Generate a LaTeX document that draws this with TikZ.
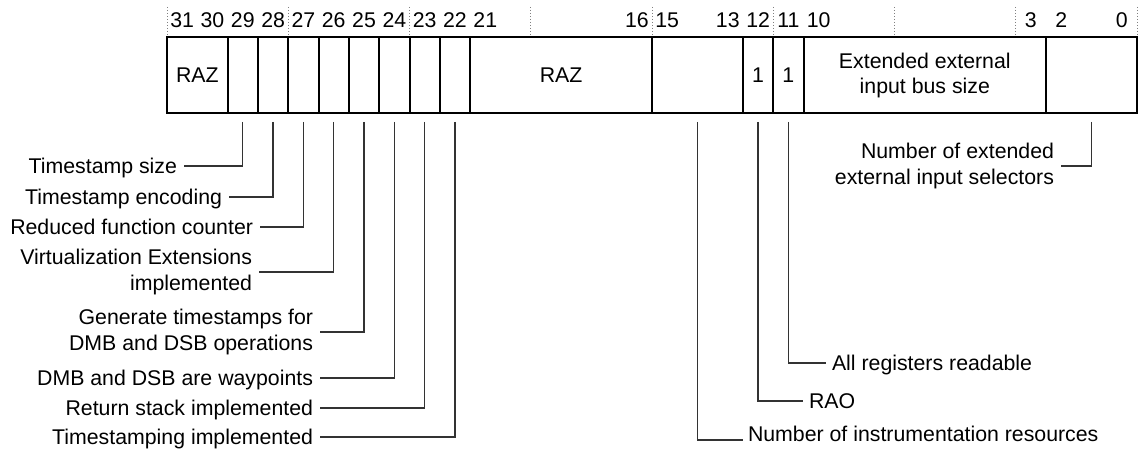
\documentclass[tikz,border=0pt]{standalone}
\usepackage{fontspec}
\setmainfont{Liberation Sans}
\usetikzlibrary{calc}
\begin{document}
\begin{tikzpicture}[x=1pt,y=-1pt,
  every node/.style={font=\fontsize{21.3}{25.5}\selectfont},
  field/.style={draw, line width=2pt, anchor=north west, minimum height=75.5pt,
    inner sep=0pt, outer sep=0pt, align=center},
  bitnum/.style={anchor=base, inner sep=0pt},
  lbl/.style={inner xsep=7pt, inner ysep=0pt, outer sep=0pt},
  one/.style={lbl, text height=15.25pt, text depth=0pt},
  conn/.style={line width=1.3pt, black!80},
  tick/.style={gray, line width=0.8pt, dash pattern=on 1pt off 2pt}]
\useasboundingbox (0,0) rectangle (1140,449);
\def\w{30.3125}
% dotted ticks above the register
\foreach \k in {0,...,8}
  \draw[tick] ({167+4*\k*\w},7) -- ({167+4*\k*\w},35);
% bit numbers
\foreach \b in {31,30,29,28,27,26,25,24,23,22,21,16,15,13,12,11,10,3,2,0}
  \node[bitnum] (b\b) at ({167+(31.5-\b)*\w},28) {\b};
% register fields
\node[field, minimum width={2*\w}] (f31) at (167,37.5) {RAZ};
\node[field, minimum width={\w}] (f29) at ({167+2*\w},37.5) {};
\node[field, minimum width={\w}] (f28) at ({167+3*\w},37.5) {};
\node[field, minimum width={\w}] (f27) at ({167+4*\w},37.5) {};
\node[field, minimum width={\w}] (f26) at ({167+5*\w},37.5) {};
\node[field, minimum width={\w}] (f25) at ({167+6*\w},37.5) {};
\node[field, minimum width={\w}] (f24) at ({167+7*\w},37.5) {};
\node[field, minimum width={\w}] (f23) at ({167+8*\w},37.5) {};
\node[field, minimum width={\w}] (f22) at ({167+9*\w},37.5) {};
\node[field, minimum width={6*\w}] (f21) at ({167+10*\w},37.5) {RAZ};
\node[field, minimum width={3*\w}] (f15) at ({167+16*\w},37.5) {};
\node[field, minimum width={\w}] (f12) at ({167+19*\w},37.5) {1};
\node[field, minimum width={\w}] (f11) at ({167+20*\w},37.5) {1};
\node[field, minimum width={8*\w}] (f10) at ({167+21*\w},37.5) {Extended external\\input bus size};
\node[field, minimum width={3*\w}] (f2) at ({167+29*\w},37.5) {};
% left labels
\node[one, anchor=east] (l29) at (184,166) {Timestamp size};
\node[one, anchor=east] (l28) at (229,197) {Timestamp encoding};
\node[one, anchor=east] (l27) at (260,227) {Reduced function counter};
\node[lbl, anchor=east, align=right] (l26) at (259,272) {Virtualization Extensions\\implemented};
\node[lbl, anchor=east, align=right] (l25) at (320,332) {Generate timestamps for\\DMB and DSB operations};
\node[one, anchor=east] (l24) at (320,378) {DMB and DSB are waypoints};
\node[one, anchor=east] (l23) at (320,408) {Return stack implemented};
\node[one, anchor=east] (l22) at (320,437) {Timestamping implemented};
% right labels
\node[one, anchor=west, inner xsep=6pt] (l11) at (826,363) {All registers readable};
\node[one, anchor=west, inner xsep=6pt] (l12) at (803,401) {RAO};
\node[one, anchor=west, inner xsep=5pt] (l15) at (743,433.5) {Number of instrumentation resources};
\node[lbl, anchor=east, align=right] (l2) at (1061,166) {Number of extended\\external input selectors};
% connectors
\draw[conn] ([yshift=-9pt]f29.south) |- (l29.east);
\draw[conn] ([yshift=-9pt]f28.south) |- (l28.east);
\draw[conn] ([yshift=-9pt]f27.south) |- (l27.east);
\draw[conn] ([yshift=-9pt]f26.south) |- (l26.east);
\draw[conn] ([yshift=-9pt]f25.south) |- (l25.east);
\draw[conn] ([yshift=-9pt]f24.south) |- (l24.east);
\draw[conn] ([yshift=-9pt]f23.south) |- (l23.east);
\draw[conn] ([yshift=-9pt]f22.south) |- (l22.east);
\draw[conn] ([yshift=-9pt]f11.south) |- (l11.west);
\draw[conn] ([yshift=-9pt]f12.south) |- (l12.west);
\draw[conn] ([yshift=-9pt]f15.south) |- ([yshift=-6.5pt]l15.west);
\draw[conn] ([yshift=-9pt]f2.south) |- (l2.east);
\end{tikzpicture}
\end{document}
